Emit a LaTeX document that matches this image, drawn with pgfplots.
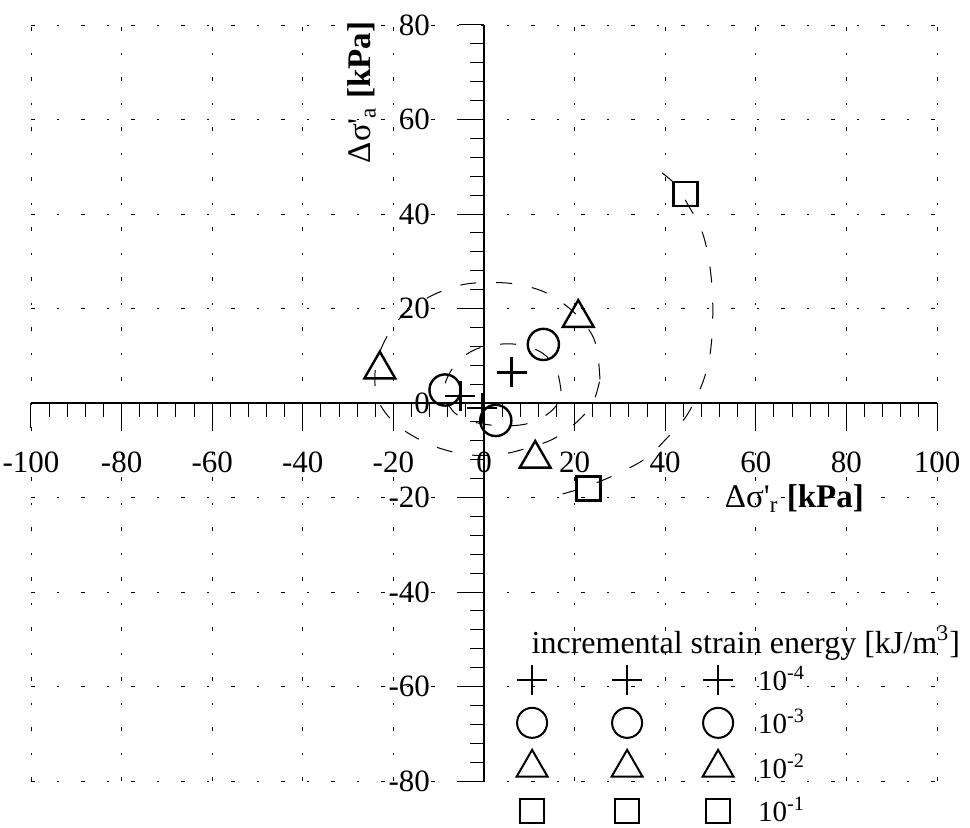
\documentclass[border=0pt]{standalone}
\usepackage{fontspec}
\setmainfont{Liberation Serif}
\usepackage{pgfplots}
\pgfplotsset{compat=1.18}
\pgfplotsset{
  mylegend/.style={legend image code/.code={\path[draw=none,fill=none] (0pt,-8pt) rectangle (20pt,8pt); \draw[##1] plot coordinates {(10pt,0pt)};}},
  ptstyle/.style={black, only marks, mark options={line width=1.2pt, solid}},
  lgstyle/.style={black, only marks, mylegend, mark options={line width=1pt, solid}},
  curve/.style={black, line width=0.5pt, dash pattern=on 8pt off 10pt, smooth, tension=0.6, mark=none},
}
\newcommand{\gap}[1]{\rule{#1}{0pt}}
\newcommand{\lgt}[1]{\gap{10pt}{\fontsize{14.5}{17}\selectfont 10\textsuperscript{#1}}}
\begin{document}
\begin{tikzpicture}
\begin{axis}[
  x=2.265pt, y=2.3625pt,
  xmin=-100, xmax=100, ymin=-80, ymax=80,
  axis lines=middle,
  axis line style={-, line width=0.6pt},
  xtick={-100,-80,...,100}, ytick={-80,-60,...,80},
  minor tick num=4,
  tick align=outside,
  major tick length=12.5pt, minor tick length=7pt,
  tick style={black, line width=0.5pt},
  hide obscured x ticks=false, hide obscured y ticks=false,
  grid=major,
  major grid style={black, line width=0.45pt, dash pattern=on 2.2pt off 11pt on 0.8pt off 11pt},
  /pgf/number format/assume math mode=true,
  ticklabel style={font=\fontsize{15.5}{18}\selectfont},
  xticklabel shift=8.5pt, yticklabel shift=11pt,
  clip=false,
  xlabel={Δσ\textquotesingle\textsubscript{r} \textbf{[kPa]}},
  ylabel={Δσ\textquotesingle\textsubscript{a} \textbf{[kPa]}},
  xlabel style={at={(axis description cs:0.8425,0.374)}, anchor=center, font=\fontsize{16.5}{19}\selectfont},
  ylabel style={at={(axis description cs:0.365,0.911)}, anchor=center, rotate=90, font=\fontsize{16.5}{19}\selectfont},
  legend columns=3,
  legend cell align=left,
  legend style={at={(axis description cs:0.531,0.155)}, anchor=north west, draw=none, fill=none,
    inner sep=0pt, outer sep=0pt, column sep=0pt, row sep=5.5pt,
    nodes={inner sep=0pt}},
]
% contour curves
\addplot[curve, forget plot] coordinates {(25.6,5) (25,11) (23.5,15) (19.5,19.5) (14,23.2) (8,25) (2,25.5) (-5,25) (-12,22.5) (-18,18.5) (-22,13) (-24,7) (-23.5,1) (-20.5,-3.5) (-16,-6.8) (-10,-9.5) (-3,-11) (4,-10.8) (10,-9.4) (15.5,-7.5) (20.5,-4) (24,0) (25.6,5)};
\addplot[curve, forget plot] coordinates {(17,2.5) (16,7) (13,10.5) (8,12.3) (3,12.4) (-2,11.3) (-6,8.5) (-8.6,4) (-8,0) (-5.5,-2.8) (-1,-4.3) (4,-4.8) (9,-4.5) (13,-3) (16,-0.5) (17,2.5)};
\addplot[curve, forget plot] coordinates {(39.3,48.7) (42.5,46) (45,42) (48,36.6) (49.5,31) (50.3,25) (50.5,19) (50.2,12.7) (49.3,7.5) (47.5,2.5) (44.5,-3) (40.6,-7.2) (36,-11.5) (30.5,-14.5) (24.5,-17) (19,-18.8) (14,-20)};
% data points
\addplot[ptstyle, mark=+, mark size=7.5pt, forget plot] coordinates {(6.1,6.5) (-5.2,1.5) (-0.4,-1.1)};
\addplot[ptstyle, mark=o, mark size=7.8pt, forget plot] coordinates {(13.1,12.4) (-8.6,2.75) (2.6,-3.7)};
\addplot[ptstyle, mark=triangle, mark size=8.9pt, forget plot] coordinates {(20.8,18.0) (-23.0,7.1) (11.3,-11.8)};
\addplot[ptstyle, mark=square, mark size=6pt, forget plot] coordinates {(44.5,44.2) (23.1,-18.1)};
% legend
\addlegendimage{lgstyle, mark=+, mark size=7.5pt}\addlegendentry{\gap{27.5pt}}
\addlegendimage{lgstyle, mark=+, mark size=7.5pt}\addlegendentry{\gap{25.5pt}}
\addlegendimage{lgstyle, mark=+, mark size=7.5pt}\addlegendentry{\lgt{-4}}
\addlegendimage{lgstyle, mark=o, mark size=7.5pt}\addlegendentry{\gap{27.5pt}}
\addlegendimage{lgstyle, mark=o, mark size=7.5pt}\addlegendentry{\gap{25.5pt}}
\addlegendimage{lgstyle, mark=o, mark size=7.5pt}\addlegendentry{\lgt{-3}}
\addlegendimage{lgstyle, mark=triangle, mark size=8.9pt}\addlegendentry{\gap{27.5pt}}
\addlegendimage{lgstyle, mark=triangle, mark size=8.9pt}\addlegendentry{\gap{25.5pt}}
\addlegendimage{lgstyle, mark=triangle, mark size=8.9pt}\addlegendentry{\lgt{-2}}
\addlegendimage{lgstyle, mark=square, mark size=6pt}\addlegendentry{\gap{27.5pt}}
\addlegendimage{lgstyle, mark=square, mark size=6pt}\addlegendentry{\gap{25.5pt}}
\addlegendimage{lgstyle, mark=square, mark size=6pt}\addlegendentry{\lgt{-1}}
\node[font=\fontsize{16}{18}\selectfont] at (axis cs:57.8,-50.8) {incremental strain energy [kJ/m\textsuperscript{3}]};
\coordinate (bbll) at (axis cs:-106.84,-89.74);
\coordinate (bbur) at (axis cs:107.28,85.29);
\end{axis}
\pgfresetboundingbox
\path (bbll) rectangle (bbur);
\end{tikzpicture}
\end{document}
